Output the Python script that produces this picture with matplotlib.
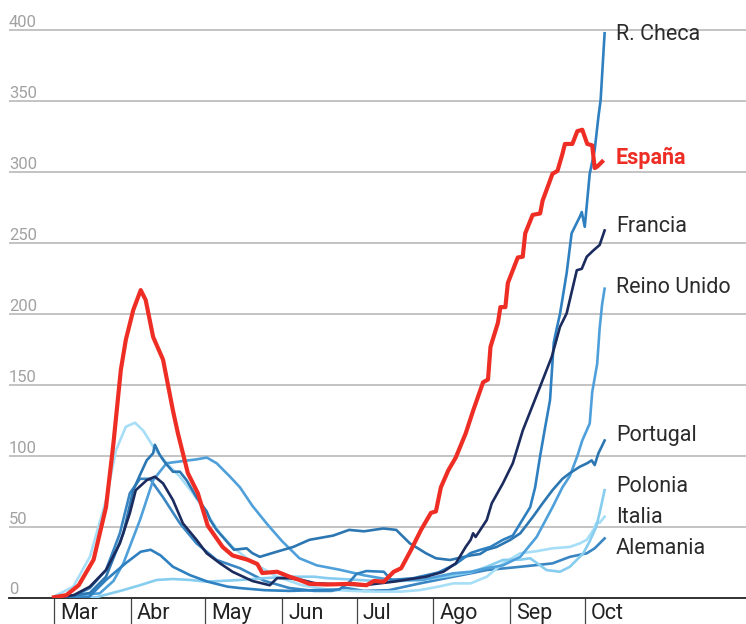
import datetime as dt
import matplotlib
matplotlib.use("Agg")
import matplotlib.pyplot as plt
import matplotlib.transforms as mtransforms

plt.rcParams["font.family"] = ["Roboto", "DejaVu Sans"]

## DATA (days counted from 1 March 2020) ##

espana_d = [0, 5, 10, 16, 21, 24, 27, 29, 32, 35, 37, 40, 44, 48, 50, 54, 58, 62, 64, 68, 72, 78, 82, 84,
            90, 95, 99, 103, 110, 120, 126, 129, 133, 137, 140, 144, 148, 152, 154, 156, 159, 162, 166, 169,
            173, 175, 176, 179, 180, 182, 183, 187, 189, 190, 193, 196, 197, 201, 203, 205, 206, 209, 211,
            213, 215, 217, 218, 219, 221]
espana_v = [0.5, 2, 9, 27, 64, 109, 161, 182, 203, 217, 210, 184, 168, 132, 116, 88, 74, 51, 46, 36, 30, 27,
            24, 17.6, 18.5, 15, 12.7, 10, 9.5, 10, 9, 12, 11.5, 18.5, 21, 34, 48, 60, 61, 78, 90, 99, 116,
            132, 152, 154, 177, 194, 205, 205, 222, 240, 240.5, 257, 270, 271, 280, 299, 301, 313, 320, 320,
            329, 330, 320, 319, 303, 304, 307.5]

checa_d = [0, 14, 21, 29, 35, 39, 43, 48, 55, 62, 70, 75, 85, 95, 105, 115, 119, 122, 126, 133, 136, 145,
           155, 162, 168, 172, 176, 181, 185, 188, 192, 194, 196, 198, 200, 201.5, 202.7, 204, 206.7, 208.7,
           212, 212.8, 214, 216, 218, 219.5, 220.4, 222]
checa_v = [0, 0.5, 12.7, 24.6, 32.6, 34, 30, 22, 16, 11.5, 8, 7, 5.5, 5, 5.5, 6, 11, 17, 19, 18.5, 12.7, 14,
           18, 24, 31.7, 34, 36, 41, 44, 52.6, 64, 78, 100, 120, 139.5, 180, 190, 200, 229, 257, 268.7, 272,
           261.6, 299, 315.7, 339, 351, 398]

francia_d = [0, 8, 14.5, 21, 26.6, 30.6, 33, 37.4, 40.7, 44, 48, 52, 57.5, 61.6, 67, 72, 80, 87, 90, 95,
             100, 105, 115, 125, 137, 150, 157, 162, 166, 168, 169, 170, 174.5, 176.5, 181, 185, 189, 196,
             200.7, 204, 206.7, 210.8, 212.8, 214.8, 217.5, 220, 222]
francia_v = [0, 2, 8, 19.7, 38.5, 59.7, 76, 83, 85.5, 80.8, 69, 52.6, 41, 31.5, 24.4, 18.5, 12, 9, 14, 13.9,
             12.7, 10.5, 9.5, 9, 11.5, 15, 18.5, 24.4, 36, 41, 45.6, 43, 55, 66.7, 80.8, 95, 118, 149, 170,
             191, 200.6, 231, 232, 240.5, 245, 248.8, 259]

reino_d = [0, 18.5, 24, 28, 34.7, 40, 45.4, 52, 57.5, 61.6, 65.6, 71, 75, 80, 86, 92, 99, 106, 115, 125,
           135, 140, 148, 161, 168, 174.5, 181, 188, 194.6, 201, 205, 208, 211, 213, 216, 217, 219, 220, 221,
           222]
reino_v = [0.3, 3.3, 12, 24.4, 55, 83, 95, 96.5, 97.7, 99, 95, 85.5, 78, 65, 52, 40, 28, 23, 20, 16, 13,
           12.7, 12.7, 17.4, 18.5, 21, 23, 29, 43, 64, 78, 86, 100, 111, 123, 145, 165, 190, 207, 218]

portugal_d = [0, 14.5, 21, 28, 32, 34.7, 37.4, 40, 40.7, 42.7, 45, 48, 50.8, 53.5, 57.5, 61.6, 63, 65.6,
              72.6, 77.7, 80, 83, 89.8, 96.5, 103, 112.6, 119, 125, 132.8, 138, 143.5, 150, 154, 159.7, 168,
              171.8, 174.5, 178.5, 184, 188, 193, 197, 201, 205, 208, 212, 215, 216.8, 218, 219.5, 220.8, 222]
portugal_v = [0, 3.5, 15, 45.6, 76, 86.7, 97, 102, 108, 100.8, 95, 89, 89, 83, 71, 61, 55, 48, 34, 35, 31.6,
              29, 32.6, 36, 41, 44, 48, 47, 49, 48, 38.5, 31.5, 28, 26.8, 30, 31, 34, 36, 41, 45.6, 57, 66.7,
              76, 84, 88, 92.5, 95, 97, 93.7, 102, 106.6, 111]

polonia_d = [0, 17, 28, 34.7, 41.4, 48, 55, 61.6, 75, 85, 95, 105, 110, 120, 130, 140, 150, 161, 168, 174.5,
             181, 188, 192, 198.6, 204, 208, 213.4, 216, 218.6, 220, 222]
polonia_v = [0, 0.5, 5.6, 9, 12.7, 13.4, 12.7, 11.5, 12.7, 14, 15, 15, 14, 13, 12, 12, 13, 16, 18, 22, 26.8,
             27, 28, 19.7, 18.5, 22, 31.5, 40, 50, 60, 76]

italia_d = [0, 7.8, 14.5, 21, 25, 29, 32.7, 36, 41, 46.8, 50.8, 56, 61.6, 67, 72, 80, 90, 100, 110, 120, 130,
            140, 147.6, 155, 161, 168, 174.5, 181, 188, 194.6, 201, 208, 212, 214.8, 217.5, 218.6, 220, 222]
italia_v = [1, 8, 29, 69, 104, 120.7, 123.5, 118, 104, 92.5, 85.5, 73.8, 59.7, 45.6, 36, 25, 15, 9, 6, 5, 4.5,
            4.5, 5.6, 8, 10.3, 10.3, 15, 24.4, 31.5, 33, 35, 36, 38.5, 41, 48, 52.6, 53, 57.3]

alemania_d = [0, 7.8, 14.5, 21, 26.6, 30.6, 34.7, 38.7, 44, 50.8, 57.5, 65.6, 75, 85, 95, 105, 112, 118, 125,
              135, 147.6, 161, 168, 174.5, 188, 201, 208, 214.8, 218, 222]
alemania_v = [0, 1.4, 7, 19.7, 45.6, 73.8, 84, 84, 71, 52.6, 38.5, 26.8, 21, 12, 7, 5, 5, 7, 5, 5.5, 10.3, 15,
              17.4, 19.7, 22, 24.4, 29, 31.5, 35, 42]

# label text, y of label baseline
label_names = ["R. Checa", "España", "Francia", "Reino Unido", "Portugal", "Polonia", "Italia", "Alemania"]
label_y = [393, 306, 258, 215, 111, 75, 52.6, 31]

month_names = ["Mar", "Abr", "May", "Jun", "Jul", "Ago", "Sep", "Oct"]
y_ticks = [0, 50, 100, 150, 200, 250, 300, 350, 400]

## PLOT ##

start = dt.date(2020, 3, 1)
month_days = [(dt.date(2020, m, 1) - start).days for m in range(3, 11)]

fig = plt.figure(figsize=(7.46, 6.24), dpi=100)
ax = fig.add_axes([9 / 746, 26 / 624, 737 / 746, 588 / 624])
ax.set_xlim(-18.1, 279)
ax.set_ylim(0, 414.4)

for s in ax.spines.values():
    s.set_visible(False)

# grid + y labels
for t in y_ticks[1:]:
    ax.axhline(t, color="#b3b3b3", lw=1.1, zorder=0)
ax.axhline(0, color="#222222", lw=1.3, zorder=5, clip_on=False)
ylab_tr = mtransforms.offset_copy(ax.transData, fig=fig, y=3.5, units="dots")
for t in y_ticks:
    ax.text(-18.1, t, str(t), transform=ylab_tr, ha="left", va="baseline",
            fontsize=12, color="#a2a2a2")

# month ticks
ax.set_yticks([])
ax.set_xticks(month_days)
ax.tick_params(axis="x", length=19, width=0.9, color="#444444", labelbottom=False, direction="out")
mlab_tr = mtransforms.offset_copy(ax.transData, fig=fig, x=6, y=-5, units="dots")
for d, name in zip(month_days, month_names):
    ax.text(d, 0, name, transform=mlab_tr, ha="left", va="top", fontsize=15.5, color="#222222")

# lines
series = [
    (alemania_d, alemania_v, "#3a86c3", 1.9),
    (italia_d, italia_v, "#a6def7", 1.9),
    (polonia_d, polonia_v, "#86cdf0", 1.9),
    (reino_d, reino_v, "#4fa0da", 1.9),
    (portugal_d, portugal_v, "#2c76b2", 1.9),
    (checa_d, checa_v, "#2f80c0", 1.9),
    (francia_d, francia_v, "#1b2b5e", 1.9),
    (espana_d, espana_v, "#ee2e25", 3.0),
]
for i, (d, v, c, lw) in enumerate(series):
    ax.plot(d, v, color=c, lw=lw, solid_joinstyle="round", zorder=10 + i)

# series labels
label_x = 226.6
for name, y in zip(label_names, label_y):
    if name == "España":
        ax.text(label_x, y, name, ha="left", va="baseline", fontsize=15.5,
                color="#ee2e25", fontweight="bold")
    else:
        ax.text(label_x, y, name, ha="left", va="baseline", fontsize=15.5, color="#2b2b2b")

fig.savefig("out.png", dpi=100)
